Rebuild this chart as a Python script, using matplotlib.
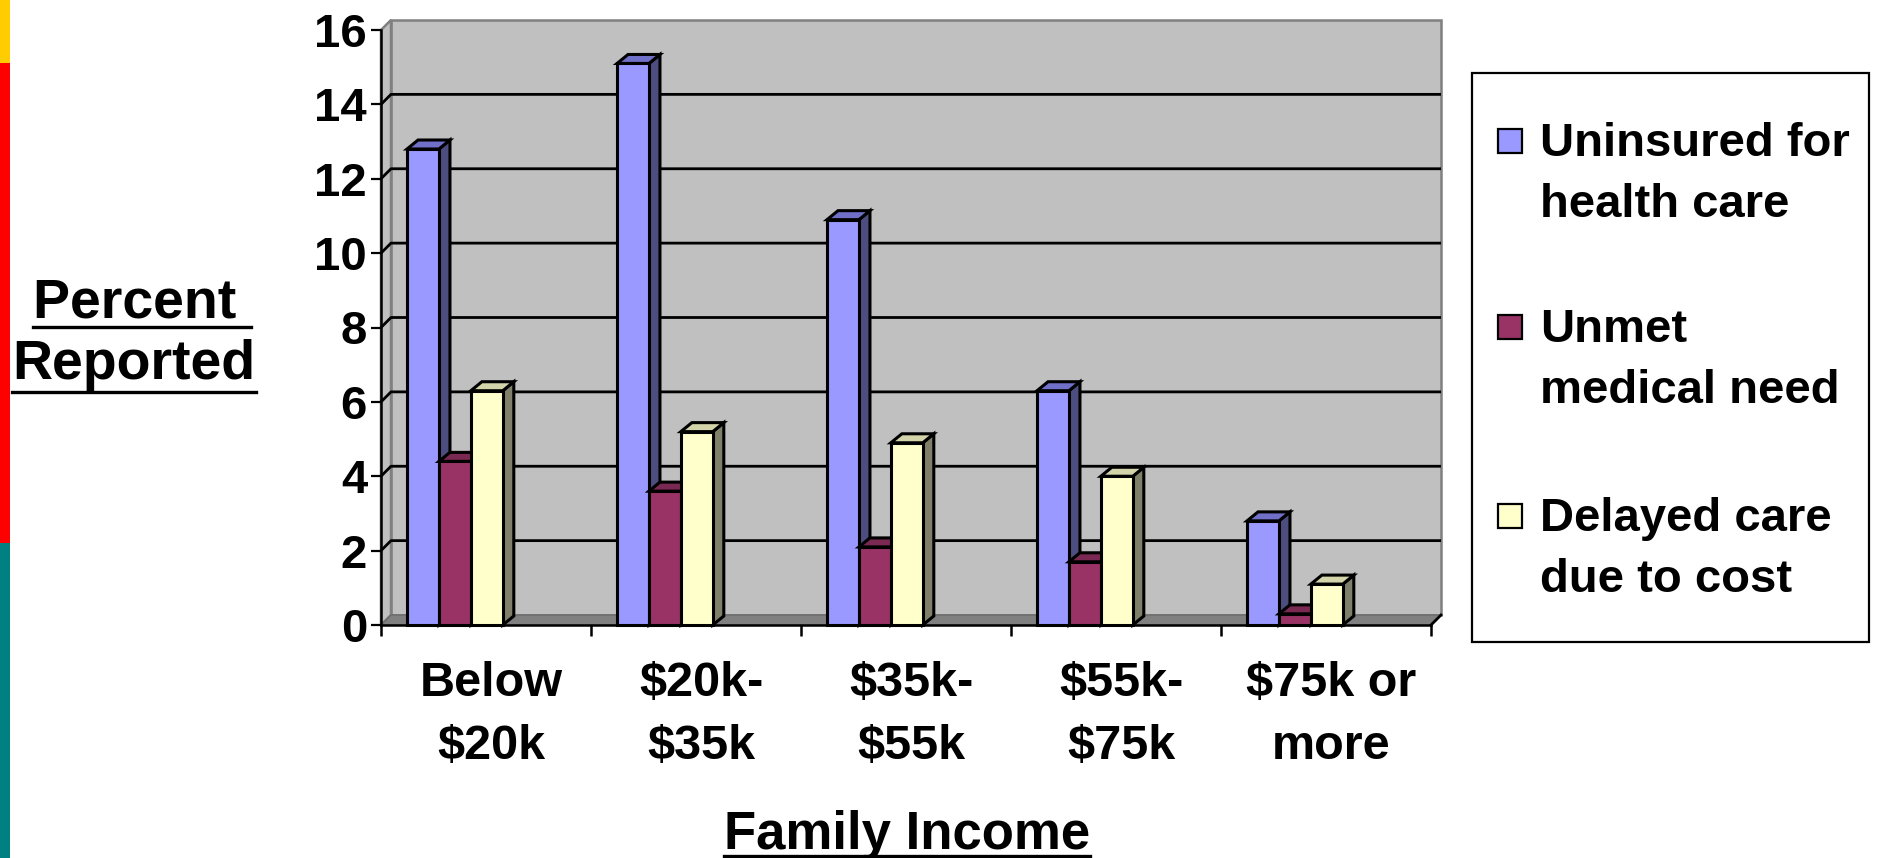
import matplotlib
matplotlib.use("Agg")
import matplotlib.pyplot as plt
from matplotlib.patches import Rectangle, Polygon
from matplotlib.lines import Line2D

# Survey results by family income (percent reporting)
categories = ["Below\n$20k", "$20k-\n$35k", "$35k-\n$55k", "$55k-\n$75k", "$75k or\nmore"]
series_names = ["Uninsured for\nhealth care", "Unmet\nmedical need", "Delayed care\ndue to cost"]
uninsured = [12.8, 15.1, 10.9, 6.3, 2.8]
unmet_need = [4.4, 3.6, 2.1, 1.7, 0.3]
delayed_care = [6.3, 5.2, 4.9, 4.0, 1.1]
y_ticks = [0, 2, 4, 6, 8, 10, 12, 14, 16]

series = [uninsured, unmet_need, delayed_care]

# front / top / side shades of each series
face_colors = ["#9999FF", "#993366", "#FFFFCC"]
top_colors = ["#7070C8", "#7A2952", "#D4D4AA"]
side_colors = ["#4D4D80", "#4D1A33", "#80806A"]

plt.rcParams["text.parse_math"] = False
plt.rcParams["font.family"] = ["Liberation Sans", "DejaVu Sans"]
plt.rcParams["font.weight"] = "bold"

W, H, DPI = 1877, 858, 100
fig = plt.figure(figsize=(W / DPI, H / DPI), dpi=DPI)
fig.patch.set_facecolor("white")


def fx(px):
    return px / W


def fy(py):
    return 1 - py / H


# side colour strip
for y0, y1, c in [(0, 63, "#FFCC00"), (63, 543, "#FF0000"), (543, H, "#008080")]:
    fig.add_artist(Rectangle((0, fy(y1)), fx(10), (y1 - y0) / H,
                             transform=fig.transFigure, color=c, lw=0))

n = len(categories)
ymax = y_ticks[-1]
ax = fig.add_axes([fx(381), fy(625), fx(1050), 595 / H])
ax.set_xlim(0, n)
ax.set_ylim(0, ymax)
ax.patch.set_visible(False)

# depth of the pseudo-3D box, in data units
px_x = 1050 / n
px_y = 595 / ymax
wall_dx, wall_dy = 10 / px_x, 10 / px_y
bar_dx, bar_dy = 11 / px_x, 9 / px_y

# walls and floor
ax.add_patch(Rectangle((wall_dx, wall_dy), n, ymax, fc="#C0C0C0", ec="#808080",
                       lw=1.8, clip_on=False, zorder=0))
ax.add_patch(Polygon([(0, 0), (wall_dx, wall_dy), (wall_dx, ymax + wall_dy), (0, ymax)],
                     closed=True, fc="#C0C0C0", ec="#808080", lw=1.8, clip_on=False, zorder=0))
ax.add_patch(Polygon([(0, 0), (n, 0), (n + wall_dx, wall_dy), (wall_dx, wall_dy)],
                     closed=True, fc="#808080", ec="#6E6E6E", lw=1.2, clip_on=False, zorder=0.5))
ax.plot([n, n + wall_dx], [0, wall_dy], color="black", lw=2, clip_on=False, zorder=1)

# gridlines on the side and back walls
for y in y_ticks[1:-1]:
    ax.plot([0, wall_dx, n + wall_dx], [y, y + wall_dy, y + wall_dy],
            color="black", lw=2, clip_on=False, zorder=1, solid_capstyle="butt")

# 3D-look columns
bar_w = 0.152
offset = 0.124
for i in range(n):
    for j, vals in enumerate(series):
        v = vals[i]
        x0 = i + offset + j * bar_w
        kw = dict(closed=True, ec="black", lw=2.2, joinstyle="miter", clip_on=False, zorder=3)
        ax.add_patch(Polygon([(x0 + bar_w, 0), (x0 + bar_w + bar_dx, bar_dy),
                              (x0 + bar_w + bar_dx, v + bar_dy), (x0 + bar_w, v)],
                             fc=side_colors[j], **kw))
        ax.add_patch(Polygon([(x0, v), (x0 + bar_dx, v + bar_dy),
                              (x0 + bar_w + bar_dx, v + bar_dy), (x0 + bar_w, v)],
                             fc=top_colors[j], **kw))
        ax.add_patch(Rectangle((x0, 0), bar_w, v, fc=face_colors[j], ec="black",
                               lw=2.2, joinstyle="miter", clip_on=False, zorder=3))

# axes
for side in ["top", "right"]:
    ax.spines[side].set_visible(False)
for side in ["left", "bottom"]:
    ax.spines[side].set_linewidth(1.8)
    ax.spines[side].set_zorder(4)

ax.set_yticks(y_ticks)
ax.set_yticklabels([str(t) for t in y_ticks])
ax.tick_params(axis="y", direction="out", length=7, width=1.6, pad=3, labelsize=34)

ax.set_xticks(range(n + 1))
ax.set_xticklabels([""] * (n + 1))
ax.tick_params(axis="x", which="major", direction="out", length=8, width=1.8)
ax.set_xticks([i + 0.5 + wall_dx / 2 for i in range(n)], minor=True)
ax.set_xticklabels(categories, minor=True, linespacing=1.5)
ax.tick_params(axis="x", which="minor", length=0, pad=26, labelsize=35)

fig.canvas.draw()
renderer = fig.canvas.get_renderer()


def underlined(text, cx, base_y, line_y, size):
    t = fig.text(fx(cx), fy(base_y), text, ha="center", va="baseline",
                 fontsize=size, fontweight="bold")
    bb = t.get_window_extent(renderer)
    fig.add_artist(Line2D([bb.x0 / W, bb.x1 / W], [fy(line_y), fy(line_y)],
                          transform=fig.transFigure, color="black", lw=2.4))
    return t


underlined("Percent ", 142, 318, 327, 40)
underlined("Reported", 134, 379, 392, 40)
underlined("Family Income", 907, 849, 856, 38)

# legend
fig.add_artist(Rectangle((fx(1472), fy(642)), (1869 - 1472) / W, (642 - 73) / H,
                         transform=fig.transFigure, fc="white", ec="black", lw=1.6))
legend_rows = [156, 342, 531]
for name, color, base in zip(series_names, face_colors, legend_rows):
    sq = 24
    cy = base - 15
    fig.add_artist(Rectangle((fx(1498), fy(cy + sq / 2)), sq / W, sq / H,
                             transform=fig.transFigure, fc=color, ec="black", lw=1.6))
    for k, line in enumerate(name.split("\n")):
        fig.text(fx(1540), fy(base + 61 * k), line, ha="left", va="baseline",
                 fontsize=34, fontweight="bold")

fig.savefig("out.png", dpi=DPI)
plt.close(fig)
